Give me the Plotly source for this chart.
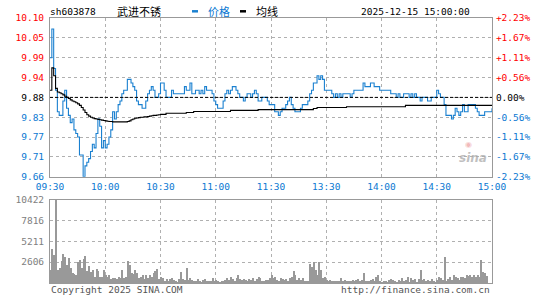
import plotly.graph_objects as go
import numpy as np

prev_close = 9.88
pct_span = 2.23
vol_max = 10422

stock_code = "sh603878"
stock_name = "武进不锈"
stamp = "2025-12-15 15:00:00"

price = [
    9.99, 10.07, 9.96, 9.90, 9.84, 9.83, 9.83, 9.87, 9.90, 9.85,
    9.83, 9.81, 9.82, 9.79, 9.78, 9.77, 9.72, 9.72, 9.66, 9.69,
    9.70, 9.71, 9.73, 9.75, 9.74, 9.78, 9.82, 9.80, 9.74, 9.76,
    9.74, 9.75, 9.77, 9.79, 9.84, 9.82, 9.84, 9.86, 9.87, 9.89,
    9.90, 9.90, 9.93, 9.93, 9.92, 9.91, 9.90, 9.87, 9.86, 9.86,
    9.85, 9.85, 9.87, 9.89, 9.90, 9.91, 9.90, 9.88, 9.88, 9.89,
    9.92, 9.92, 9.90, 9.88, 9.88, 9.88, 9.90, 9.89, 9.89, 9.89,
    9.89, 9.89, 9.89, 9.91, 9.90, 9.90, 9.92, 9.89, 9.89, 9.90,
    9.90, 9.89, 9.90, 9.89, 9.91, 9.90, 9.90, 9.90, 9.89, 9.87,
    9.86, 9.85, 9.85, 9.85, 9.87, 9.89, 9.90, 9.89, 9.90, 9.91,
    9.91, 9.90, 9.89, 9.88, 9.88, 9.87, 9.88, 9.89, 9.89, 9.88,
    9.89, 9.90, 9.89, 9.87, 9.87, 9.88, 9.88, 9.88, 9.87, 9.86,
    9.86, 9.86, 9.84, 9.84, 9.83, 9.84, 9.85, 9.85, 9.86, 9.87,
    9.88, 9.86, 9.85, 9.84, 9.84, 9.84, 9.85, 9.86, 9.86, 9.86,
    9.87, 9.89, 9.90, 9.92, 9.92, 9.94, 9.93, 9.94, 9.93, 9.90,
    9.90, 9.90, 9.90, 9.89, 9.88, 9.89, 9.88, 9.89, 9.88, 9.89,
    9.89, 9.89, 9.89, 9.88, 9.89, 9.90, 9.90, 9.90, 9.90, 9.90,
    9.92, 9.91, 9.91, 9.91, 9.92, 9.92, 9.91, 9.91, 9.91, 9.90,
    9.90, 9.90, 9.90, 9.90, 9.90, 9.89, 9.89, 9.89, 9.88, 9.89,
    9.88, 9.88, 9.89, 9.89, 9.89, 9.88, 9.89, 9.88, 9.89, 9.88,
    9.88, 9.87, 9.88, 9.88, 9.88, 9.87, 9.87, 9.88, 9.88, 9.88,
    9.90, 9.89, 9.88, 9.88, 9.86, 9.83, 9.83, 9.83, 9.82, 9.83,
    9.85, 9.84, 9.83, 9.84, 9.86, 9.84, 9.84, 9.86, 9.86, 9.86,
    9.86, 9.85, 9.84, 9.83, 9.83, 9.83, 9.84, 9.84, 9.84, 9.84,
    9.85,
]

avg_price = [
    9.900, 9.962, 9.940, 9.905, 9.895, 9.893, 9.890, 9.887, 9.883, 9.880,
    9.877, 9.873, 9.870, 9.868, 9.865, 9.862, 9.858, 9.852, 9.845, 9.838,
    9.832, 9.828, 9.825, 9.823, 9.821, 9.820, 9.819, 9.818, 9.817, 9.816,
    9.815, 9.814, 9.813, 9.813, 9.812, 9.812, 9.812, 9.812, 9.812, 9.812,
    9.812, 9.812, 9.813, 9.815, 9.818, 9.820, 9.822, 9.823, 9.824, 9.825,
    9.825, 9.826, 9.826, 9.827, 9.828, 9.829, 9.830, 9.830, 9.831, 9.832,
    9.833, 9.833, 9.833, 9.836, 9.836, 9.836, 9.836, 9.836, 9.836, 9.836,
    9.836, 9.836, 9.836, 9.836, 9.838, 9.838, 9.838, 9.838, 9.841, 9.841,
    9.841, 9.841, 9.841, 9.841, 9.841, 9.841, 9.841, 9.841, 9.841, 9.841,
    9.841, 9.841, 9.841, 9.841, 9.841, 9.841, 9.841, 9.841, 9.844, 9.844,
    9.844, 9.844, 9.844, 9.844, 9.844, 9.844, 9.844, 9.844, 9.844, 9.844,
    9.844, 9.844, 9.844, 9.846, 9.846, 9.846, 9.846, 9.846, 9.846, 9.846,
    9.846, 9.846, 9.846, 9.846, 9.846, 9.846, 9.846, 9.846, 9.846, 9.846,
    9.846, 9.846, 9.846, 9.846, 9.846, 9.846, 9.846, 9.846, 9.846, 9.846,
    9.846, 9.846, 9.846, 9.849, 9.849, 9.852, 9.852, 9.852, 9.852, 9.852,
    9.852, 9.852, 9.852, 9.852, 9.852, 9.852, 9.852, 9.852, 9.852, 9.852,
    9.852, 9.854, 9.854, 9.854, 9.854, 9.854, 9.854, 9.854, 9.854, 9.854,
    9.854, 9.854, 9.854, 9.854, 9.854, 9.854, 9.854, 9.854, 9.854, 9.854,
    9.854, 9.854, 9.854, 9.854, 9.854, 9.854, 9.854, 9.854, 9.854, 9.854,
    9.854, 9.854, 9.854, 9.858, 9.858, 9.858, 9.858, 9.858, 9.858, 9.858,
    9.858, 9.858, 9.858, 9.858, 9.858, 9.858, 9.858, 9.858, 9.858, 9.858,
    9.858, 9.858, 9.858, 9.858, 9.858, 9.858, 9.858, 9.858, 9.858, 9.858,
    9.858, 9.858, 9.858, 9.858, 9.858, 9.858, 9.858, 9.858, 9.858, 9.858,
    9.858, 9.858, 9.858, 9.858, 9.858, 9.858, 9.858, 9.858, 9.858, 9.858,
    9.858,
]

volume = [
    1650, 4260, 3520, 10422, 1650, 1900, 2800, 3640, 3270, 2240,
    3150, 1900, 1280, 1160, 1080, 2730, 2980, 1900, 3060, 3390,
    1490, 2110, 1410, 1700, 830, 1740, 1490, 830, 830, 1650,
    990, 830, 1080, 580, 660, 660, 500, 830, 660, 1650,
    660, 830, 2800, 2320, 1320, 1160, 1650, 1320, 660, 830,
    990, 580, 1080, 660, 990, 830, 1240, 1570, 1820, 500,
    830, 660, 330, 580, 250, 500, 660, 410, 250, 170,
    580, 1410, 580, 410, 1900, 410, 660, 410, 330, 330,
    500, 330, 170, 410, 500, 330, 250, 330, 660, 250,
    410, 330, 170, 250, 330, 410, 660, 410, 830, 580,
    330, 660, 990, 500, 410, 580, 410, 330, 500, 410,
    660, 330, 580, 830, 660, 250, 330, 410, 410, 660,
    1080, 660, 830, 410, 330, 660, 580, 410, 580, 330,
    660, 750, 1490, 990, 410, 660, 410, 660, 330, 250,
    330, 2400, 1990, 2730, 1650, 990, 2650, 1650, 660, 830,
    410, 330, 410, 330, 250, 250, 250, 330, 660, 330,
    410, 250, 250, 330, 410, 330, 410, 580, 330, 410,
    1240, 330, 250, 330, 410, 580, 250, 750, 1080, 250,
    170, 250, 250, 170, 410, 500, 410, 330, 170, 410,
    330, 660, 250, 410, 750, 170, 660, 410, 580, 170,
    580, 1650, 410, 500, 330, 410, 250, 500, 250, 170,
    410, 830, 660, 410, 3270, 250, 580, 750, 410, 1080,
    750, 660, 410, 750, 830, 660, 990, 910, 990, 830,
    990, 830, 1080, 750, 2900, 1410, 1320, 910, 0, 0,
    900,
]

time_labels = ["09:30", "10:00", "10:30", "11:00", "11:30", "13:30", "14:00", "14:30", "15:00"]
price_labels = ["9.66", "9.71", "9.77", "9.83", "9.88", "9.94", "9.99", "10.05", "10.10"]
pct_labels = ["-2.23%", "-1.67%", "-1.11%", "-0.56%", "0.00%", "+0.56%", "+1.11%", "+1.67%", "+2.23%"]
vol_labels = ["", "2606", "5211", "7816", "10422"]

RED = "#ff0000"
BLUE = "#0a78d2"
LINE_BLUE = "#1a80d0"
GREY = "#999999"
MONO = "DejaVu Sans Mono, Liberation Mono, monospace"
CJK = "Noto Sans CJK SC, sans-serif"

x = list(range(len(price)))
n_min = len(price) - 1
lo = prev_close * (1 - pct_span / 100)
hi = prev_close * (1 + pct_span / 100)
p_ticks = list(np.linspace(lo, hi, len(price_labels)))
mid = len(price_labels) // 2


def colored(labels):
    out = []
    for k, t in enumerate(labels):
        c = BLUE if k < mid else ("#000000" if k == mid else RED)
        out.append(f"<span style='color:{c}'>{t}</span>")
    return out


fig = go.Figure()
fig.add_trace(go.Scatter(x=x, y=price, mode="lines", line=dict(color=LINE_BLUE, width=1.1, shape="hv"),
                         xaxis="x", yaxis="y", hoverinfo="skip"))
fig.add_trace(go.Scatter(x=x, y=avg_price, mode="lines", line=dict(color="#000000", width=1.1, shape="hv"),
                         xaxis="x", yaxis="y3", hoverinfo="skip"))
fig.add_trace(go.Bar(x=x, y=volume, marker=dict(color=GREY, line=dict(width=0)), width=0.55, offset=0,
                     xaxis="x2", yaxis="y2", hoverinfo="skip"))

W, H = 545, 300
ml, mr, mt, mb = 50, 53, 18, 15
pw, ph = W - ml - mr, H - mt - mb
main_bottom = (H - mb - 178) / ph
vol_top = (H - mb - 201) / ph

grid = dict(showgrid=True, gridcolor="#b0b0b0", griddash="dot", gridwidth=1,
            showline=True, linecolor=GREY, linewidth=1, mirror=True, zeroline=False)

fig.update_layout(
    width=W, height=H, margin=dict(l=ml, r=mr, t=mt, b=mb),
    paper_bgcolor="white", plot_bgcolor="white", showlegend=False, bargap=0,
    xaxis=dict(domain=[0, 1], anchor="y", range=[0, n_min], tickvals=list(range(0, n_min + 1, 30)),
               ticktext=time_labels, tickfont=dict(family=MONO, size=9.5, color=BLUE),
               ticks="outside", ticklen=1, tickcolor="rgba(0,0,0,0)", **grid),
    yaxis=dict(domain=[main_bottom, 1], anchor="x", range=[lo, hi], tickvals=p_ticks,
               ticktext=colored(price_labels), tickfont=dict(family=MONO, size=9.5),
               ticks="outside", ticklen=3, tickcolor="rgba(0,0,0,0)", **grid),
    yaxis3=dict(overlaying="y", side="right", anchor="x", range=[lo, hi], tickvals=p_ticks,
                ticktext=colored(pct_labels), tickfont=dict(family=MONO, size=9.5),
                ticks="outside", ticklen=1, tickcolor="rgba(0,0,0,0)", showgrid=False, zeroline=False),
    xaxis2=dict(domain=[0, 1], anchor="y2", range=[0, n_min], tickvals=list(range(0, n_min + 1, 30)),
                showticklabels=False, ticks="", **grid),
    yaxis2=dict(domain=[0, vol_top], anchor="x2", range=[0, vol_max],
                tickvals=list(np.linspace(0, vol_max, len(vol_labels))), ticktext=vol_labels,
                tickfont=dict(family=MONO, size=9.5, color="#808080"),
                ticks="outside", ticklen=3, tickcolor="rgba(0,0,0,0)", **grid),
)

fig.add_shape(type="line", xref="x", yref="y", x0=0, x1=n_min, y0=prev_close, y1=prev_close,
              line=dict(color="#000000", width=1, dash="3px,2px"))


def px(v):
    return (v - ml) / pw


def py(v):
    return (H - mb - v) / ph


hy = py(11)
ann = [
    dict(text=stock_code, x=px(48), xanchor="left", font=dict(family=MONO, size=9.5, color="#000")),
    dict(text=stock_name, x=px(115), xanchor="left", font=dict(family=CJK, size=11, color="#000")),
    dict(text="价格", x=px(206), xanchor="left", font=dict(family=CJK, size=11, color=BLUE)),
    dict(text="均线", x=px(254), xanchor="left", font=dict(family=CJK, size=11, color="#000")),
    dict(text=stamp, x=px(472), xanchor="right", font=dict(family=MONO, size=9.5, color="#000")),
]
for a in ann:
    fig.add_annotation(xref="paper", yref="paper", y=hy, yanchor="middle", showarrow=False, **a)

fig.add_shape(type="rect", xref="paper", yref="paper", x0=px(192), x1=px(198), y0=py(12.5), y1=py(10),
              fillcolor=LINE_BLUE, line=dict(width=0))
fig.add_shape(type="rect", xref="paper", yref="paper", x0=px(240), x1=px(246), y0=py(12.5), y1=py(10),
              fillcolor="#000000", line=dict(width=0))

fig.add_annotation(xref="paper", yref="paper", x=px(49), y=py(292), xanchor="left", yanchor="middle",
                   showarrow=False, text="Copyright 2025 SINA.COM",
                   font=dict(family=MONO, size=9.5, color="#555555"))
fig.add_annotation(xref="paper", yref="paper", x=px(492), y=py(292), xanchor="right", yanchor="middle",
                   showarrow=False, text="http://finance.sina.com.cn",
                   font=dict(family=MONO, size=9.5, color="#555555"))
fig.add_annotation(xref="paper", yref="paper", x=px(473), y=py(159), xanchor="center", yanchor="middle",
                   showarrow=False, text="<b><i>sina</i></b>", borderpad=0,
                   font=dict(family="DejaVu Sans, sans-serif", size=12, color="rgba(170,170,170,0.75)"))
fig.add_annotation(xref="paper", yref="paper", x=px(468), y=py(145), xanchor="center", yanchor="middle",
                   showarrow=False, text="◉", borderpad=0,
                   font=dict(family="DejaVu Sans, sans-serif", size=8, color="rgba(230,120,120,0.5)"))

fig.write_html("out.html")
